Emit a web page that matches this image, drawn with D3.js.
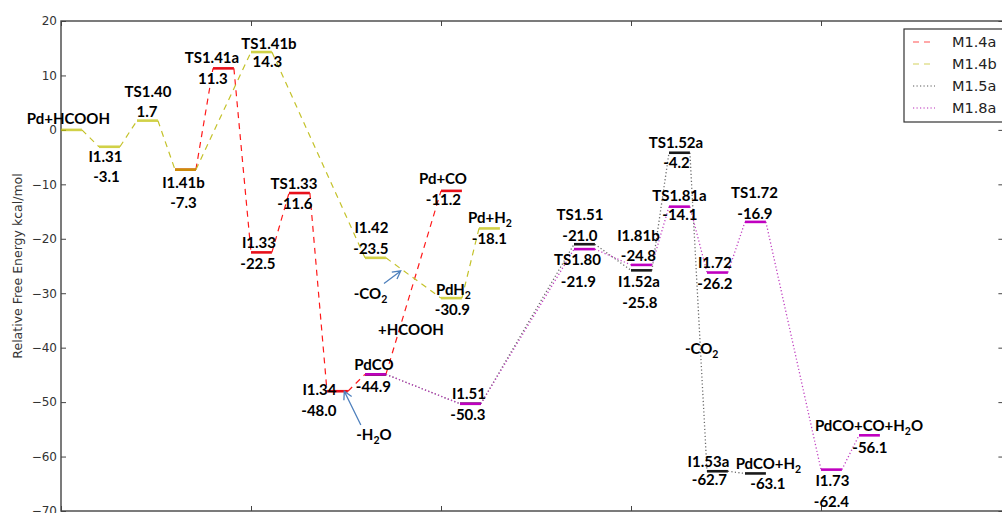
<!DOCTYPE html>
<html><head><meta charset="utf-8">
<script src="https://cdn.jsdelivr.net/npm/d3@7"></script>
<style>
html,body{margin:0;padding:0;background:#fff;overflow:hidden}
svg{display:block}
</style></head><body>
<svg id="chart" width="1002" height="513"></svg>
<script>
// ---- data -------------------------------------------------------------
const states = ["Pd+HCOOH","I1.31","TS1.40","I1.41b","TS1.41a","TS1.41b","I1.33","TS1.33",
  "I1.34","PdCO","I1.42","Pd+CO","PdH2","Pd+H2","I1.51","TS1.51","TS1.80","I1.81b","I1.52a",
  "TS1.52a","TS1.81a","I1.72","TS1.72","I1.53a","PdCO+H2","I1.73","PdCO+CO+H2O"];
// reaction-coordinate slot of each state
const stateX = [0,0.2,0.4,0.6,0.8,1.0,1.0,1.2,1.4,1.6,1.6,2.0,2.0,2.2,2.1,2.7,2.7,3.0,3.0,
  3.2,3.2,3.4,3.6,3.4,3.6,4.0,4.2];
// relative free energy, kcal/mol
const energies = [0.0,-3.1,1.7,-7.3,11.3,14.3,-22.5,-11.6,-48.0,-44.9,-23.5,-11.2,-30.9,-18.1,
  -50.3,-21.0,-21.9,-24.8,-25.8,-4.2,-14.1,-26.2,-16.9,-62.7,-63.1,-62.4,-56.1];
// states whose energy is not printed
const hideValue = ["Pd+HCOOH"];

const seriesNames = ["M1.4a","M1.4b","M1.5a","M1.8a"];
const pathM14a = ["I1.41b","TS1.41a","I1.33","TS1.33","I1.34","PdCO","Pd+CO"];
const pathM14b = ["Pd+HCOOH","I1.31","TS1.40","I1.41b","TS1.41b","I1.42","PdH2","Pd+H2"];
const pathM15a = ["PdCO","I1.51","TS1.51","I1.52a","TS1.52a","I1.53a","PdCO+H2"];
const pathM18a = ["PdCO","I1.51","TS1.80","I1.81b","TS1.81a","I1.72","TS1.72","I1.73","PdCO+CO+H2O"];

const yTickValues = [20,10,0,-10,-20,-30,-40,-50,-60,-70];
const xTickValues = [0,1,2,3,4];

// free-text notes on the diagram: [text, x, energy]
const notes = [["-CO2",1.629,-30.1],["+HCOOH",1.842,-36.6],["-H2O",1.647,-55.9],["-CO2",3.372,-40.2]];
// arrows: [x tail, E tail, x head, E head]
const arrows = [[1.70,-28.2,1.788,-25.9],[1.578,-54.2,1.491,-48.0]];

// ---- styling / layout ---------------------------------------------------
const seriesStyle = {
  "M1.4a": {line:"#ff1a1a", level:"#e8101a", levelOpacity:1, dash:"6,5", width:1.2},
  "M1.4b": {line:"#c4c22a", level:"#bfbf00", levelOpacity:0.72, dash:"6,5", width:1.2},
  "M1.5a": {line:"#6a6a6a", level:"#1a1a1a", levelOpacity:1, dash:"1.2,2.3", width:1.3},
  "M1.8a": {line:"#c040c0", level:"#c000c0", levelOpacity:1, dash:"1.2,2.3", width:1.3}
};
const seriesPaths = {"M1.4a":pathM14a,"M1.4b":pathM14b,"M1.5a":pathM15a,"M1.8a":pathM18a};
const levelWidth = 0.11;
// label offsets from level centre in px: [name dx, name dy, value dx, value dy]
const labelOffsets = {
  "Pd+HCOOH":[-3,-11.4,0,0], "I1.31":[-4,10,-3,30], "TS1.40":[0.5,-29,-0.5,-8.6],
  "I1.41b":[-2,13,-2,32.5], "TS1.41a":[-11.5,-10.6,-10.5,10.3], "TS1.41b":[7.5,-8.3,6,10],
  "I1.33":[-2.5,-9.4,-3.5,11.6], "TS1.33":[-5.5,-9.4,-4.5,11], "I1.34":[-18,-1.5,-18.5,19.3],
  "PdCO":[-1.5,-9.6,-2,12.2], "Pd+CO":[-8.5,-12,-8,8.6], "I1.42":[-4,-29.8,-4.5,-8.8],
  "PdH2":[2,-9,1,11], "Pd+H2":[0.5,-11,0,10.6], "I1.51":[-1.5,-9.7,-2.5,11.3],
  "TS1.51":[-4.5,-30,-4.5,-8.2], "TS1.80":[-7,10,-6,32], "I1.81b":[-3,-29.4,-3,-9],
  "I1.52a":[-2.5,11,-1.5,32], "TS1.52a":[-3.5,-10.3,-3,10], "TS1.81a":[0,-10.7,0.5,8.3],
  "I1.72":[-2.5,-10,-2.5,11.5], "TS1.72":[-1,-29.2,-0.5,-8.4], "I1.53a":[-9,-9.2,-8,8.8],
  "PdCO+H2":[13,-10,12.5,10.6], "I1.73":[1,11,0,32], "PdCO+CO+H2O":[-0.5,-9.3,0.5,12.2]
};

const labelFont = "Lato, 'Open Sans', sans-serif";
const labelSize = 15;

// ---- scales ---------------------------------------------------------------
const x = d3.scaleLinear().domain([0,4.96]).range([61, 61 + 4.96*190]);
const y = d3.scaleLinear().domain([-70,20]).range([511,21]);
const svg = d3.select("#chart");

const byName = new Map(states.map((s,i)=>[s,{name:s,x:stateX[i],e:energies[i]}]));

// ---- axes -------------------------------------------------------------------
const axisColor = "#444";
function styleAxis(g){
  g.select(".domain").remove();
  g.selectAll(".tick line").attr("stroke",axisColor).attr("stroke-width",1);
  g.selectAll(".tick text").attr("fill","#333");
}
function dropEmptyText(g){ g.selectAll(".tick text").remove(); }
svg.append("g").attr("transform",`translate(${x(0)},0)`)
  .call(d3.axisLeft(y).tickValues(yTickValues).tickSizeInner(-5).tickSizeOuter(0).tickPadding(4))
  .call(styleAxis)
  .selectAll("text").attr("font-family","'DejaVu Sans', sans-serif").attr("font-size",12);
svg.append("g").attr("transform",`translate(${x(4.96)},0)`)
  .call(d3.axisRight(y).tickValues(yTickValues).tickSizeInner(-5).tickSizeOuter(0))
  .call(styleAxis).call(dropEmptyText);
svg.append("g").attr("transform",`translate(0,${y(20)})`)
  .call(d3.axisTop(x).tickValues(xTickValues).tickSizeInner(-5).tickSizeOuter(0))
  .call(styleAxis).call(dropEmptyText);
svg.append("g").attr("transform",`translate(0,${y(-70)})`)
  .call(d3.axisBottom(x).tickValues(xTickValues).tickSizeInner(-5).tickSizeOuter(0))
  .call(styleAxis).call(dropEmptyText);
svg.append("rect").attr("x",x(0)).attr("y",y(20))
  .attr("width",x(4.96)-x(0)).attr("height",y(-70)-y(20))
  .attr("fill","none").attr("stroke",axisColor).attr("stroke-width",1.4);

svg.append("text")
  .attr("transform",`translate(17,${(y(20)+y(-70))/2}) rotate(-90)`)
  .attr("text-anchor","middle").attr("dominant-baseline","central")
  .attr("font-family","'DejaVu Sans', sans-serif").attr("font-size",12.5).attr("fill","#333")
  .text("Relative Free Energy kcal/mol");

// ---- connectors and levels -------------------------------------------------
const plot = svg.append("g");
seriesNames.forEach(sn=>{
  const st = seriesStyle[sn];
  const pts = seriesPaths[sn].map(n=>byName.get(n));
  let d = "";
  for(let i=0;i<pts.length-1;i++){
    const a=pts[i], b=pts[i+1];
    d += `M${x(a.x+levelWidth)},${y(a.e)}L${x(b.x)},${y(b.e)}`;
  }
  plot.append("path").attr("d",d).attr("fill","none")
    .attr("stroke",st.line).attr("stroke-width",st.width).attr("stroke-dasharray",st.dash);
});
seriesNames.forEach(sn=>{
  const st = seriesStyle[sn];
  plot.selectAll(null).data(seriesPaths[sn].map(n=>byName.get(n))).join("line")
    .attr("x1",d=>x(d.x)).attr("x2",d=>x(d.x+levelWidth))
    .attr("y1",d=>y(d.e)).attr("y2",d=>y(d.e))
    .attr("stroke",st.level).attr("stroke-opacity",st.levelOpacity).attr("stroke-width",2.6);
});

// ---- labels -------------------------------------------------------------------
function richText(sel, str){
  // subscript the 2 in H2 / O2; the following run returns to the baseline
  const parts = str.split(/(?<=[HO])(2)/).filter(p=>p!=="");
  let lowered = false;
  parts.forEach(p=>{
    if(p==="2" && !lowered && /[HO]$/.test(sel.text())){
      sel.append("tspan").attr("font-size",labelSize*0.7).attr("dy",4).text("2");
      lowered = true;
    } else {
      const t = sel.append("tspan").text(p);
      if(lowered){ t.attr("dy",-4); lowered = false; }
    }
  });
}
const fmt = v => (v<0?"-":"") + Math.abs(v).toFixed(1);
const capShift = labelSize*0.36;
const labels = svg.append("g").attr("font-family",labelFont).attr("font-weight",700)
  .attr("font-size",labelSize).attr("fill","#000").attr("text-anchor","middle");
states.forEach(s=>{
  const d = byName.get(s), o = labelOffsets[s];
  const cx = x(d.x+levelWidth/2), cy = y(d.e);
  const t = labels.append("text").attr("x",cx+o[0]).attr("y",cy+o[1]+capShift);
  richText(t, s);
  if(!hideValue.includes(s)){
    labels.append("text").attr("x",cx+o[2]).attr("y",cy+o[3]+capShift).text(fmt(d.e));
  }
});
notes.forEach(n=>{
  const t = labels.append("text").attr("x",x(n[1])).attr("y",y(n[2])+capShift);
  richText(t, n[0]);
});

// ---- arrows -------------------------------------------------------------------
const arrowColor = "#4f81bd";
arrows.forEach(a=>{
  const x0=x(a[0]), y0=y(a[1]), x1=x(a[2]), y1=y(a[3]);
  const ang = Math.atan2(y1-y0, x1-x0), L=9, spread=0.5;
  const p1=[x1-L*Math.cos(ang-spread), y1-L*Math.sin(ang-spread)];
  const p2=[x1-L*Math.cos(ang+spread), y1-L*Math.sin(ang+spread)];
  svg.append("path")
    .attr("d",`M${x0},${y0}L${x1},${y1}M${p1[0]},${p1[1]}L${x1},${y1}L${p2[0]},${p2[1]}`)
    .attr("fill","none").attr("stroke",arrowColor).attr("stroke-width",1.3);
});

// ---- legend -------------------------------------------------------------------
const lg = svg.append("g").attr("transform","translate(904,29)");
lg.append("rect").attr("width",110).attr("height",93).attr("fill","#fff")
  .attr("stroke","#333").attr("stroke-width",1.2);
seriesNames.forEach((sn,i)=>{
  const st = seriesStyle[sn], yy = 13 + i*22;
  lg.append("line").attr("x1",9).attr("x2",31).attr("y1",yy).attr("y2",yy)
    .attr("stroke",st.line).attr("stroke-width",st.width).attr("stroke-dasharray",st.dash)
    .attr("stroke-opacity",0.75);
  lg.append("text").attr("x",48).attr("y",yy+5.3)
    .attr("font-family","'DejaVu Sans', sans-serif").attr("font-size",14.5).attr("fill","#222")
    .text(sn);
});
</script></body></html>
